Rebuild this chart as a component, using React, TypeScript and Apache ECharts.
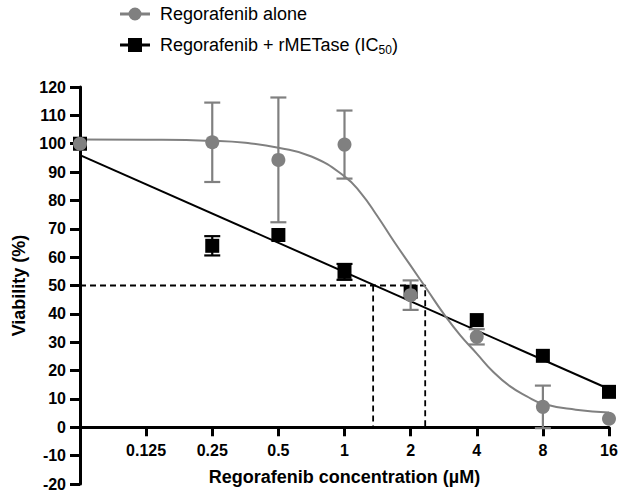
import React, { useEffect, useRef } from 'react';
import * as echarts from 'echarts';

// Concentrations (µM)
const doses = [0.0625, 0.25, 0.5, 1, 2, 4, 8, 16];
// Regorafenib alone: mean viability (%) and SD
const aloneMean = [100, 100.5, 94.3, 99.7, 46.6, 31.9, 7.2, 3];
const aloneSD = [0, 14, 22, 12, 5.2, 2.7, 7.5, 0];
// Regorafenib + rMETase: mean viability (%) and SD
const comboMean = [100, 64, 67.8, 54.8, 47.8, 37.8, 25.2, 12.5];
const comboSD = [0, 3.4, 0, 2.8, 0, 0, 0, 0];

// Fitted curve for Regorafenib alone
const aloneFitX = [0.0625, 0.125, 0.25, 0.354, 0.5, 0.707, 1, 1.19, 1.41, 1.68, 2, 2.38, 2.83, 3.36, 4, 4.76, 5.66, 6.73, 8, 11.3, 16];
const aloneFitY = [101.5, 101.4, 101.0, 100.3, 98.6, 95.5, 88.5, 82.5, 74.5, 65.5, 57, 48.5, 40, 32.5, 26, 19.5, 14.5, 11, 8.3, 6.2, 5.2];
// Fitted line for Regorafenib + rMETase
const comboFitX = [0.0625, 16];
const comboFitY = [96, 13.5];

// IC50 values (µM) for the dashed guides
const ic50Combo = 1.35;
const ic50Alone = 2.33;

const xTicks = [0.0625, 0.125, 0.25, 0.5, 1, 2, 4, 8, 16];

const ALONE = 'Regorafenib alone';
const COMBO = 'Regorafenib + rMETase (IC50)';
const FONT = 'Arial, "Liberation Sans", Helvetica, sans-serif';
const GRAY = '#808080';

function errData(means: number[], sds: number[]) {
  const out: number[][] = [];
  doses.forEach((d, i) => {
    if (sds[i] > 0) out.push([d, means[i] - sds[i], means[i] + sds[i]]);
  });
  return out;
}

function errSeries(name: string, means: number[], sds: number[], color: string, z: number) {
  return {
    type: 'custom',
    name,
    z,
    silent: true,
    data: errData(means, sds),
    encode: { x: 0, y: [1, 2] },
    renderItem: (params: any, api: any) => {
      const x = api.value(0);
      const lo = api.coord([x, api.value(1)]);
      const hi = api.coord([x, api.value(2)]);
      const hw = 8;
      const style = { stroke: color, lineWidth: 2.2 };
      return {
        type: 'group',
        children: [
          { type: 'line', shape: { x1: lo[0], y1: lo[1], x2: hi[0], y2: hi[1] }, style },
          { type: 'line', shape: { x1: lo[0] - hw, y1: lo[1], x2: lo[0] + hw, y2: lo[1] }, style },
          { type: 'line', shape: { x1: hi[0] - hw, y1: hi[1], x2: hi[0] + hw, y2: hi[1] }, style },
        ],
      };
    },
  };
}

const circleIcon = 'path://M0,6h9v3H0z M21,6h9v3H21z M8.5,7.5a6.5,6.5 0 1,1 13,0a6.5,6.5 0 1,1 -13,0z';
const squareIcon = 'path://M0,6h9v3H0z M21,6h9v3H21z M8,0.5h14v14h-14z';

export default function App() {
  const ref = useRef<HTMLDivElement>(null);
  useEffect(() => {
    if (!ref.current) return;
    const chart = echarts.init(ref.current, null, { renderer: 'svg' });
    const dash = { color: '#000', width: 1.8, type: [6, 4] as any };
    chart.setOption({
      animation: false,
      backgroundColor: '#fff',
      grid: { left: 80, right: 21, top: 87, bottom: 7, containLabel: false, outerBoundsMode: 'none' },
      legend: {
        orient: 'vertical',
        left: 120,
        top: 5,
        padding: 0,
        itemWidth: 30,
        itemHeight: 15,
        itemGap: 13,
        selectedMode: false,
        data: [
          { name: ALONE, icon: circleIcon, itemStyle: { color: GRAY, opacity: 1 } },
          { name: COMBO, icon: squareIcon, itemStyle: { color: '#000', opacity: 1 } },
        ],
        formatter: (name: string) =>
          name === COMBO ? '{n|Regorafenib + rMETase (IC}{sub|50}{n|)}' : '{n|' + name + '}',
        textStyle: {
          padding: [0, 0, 0, 5],
          rich: {
            n: { fontSize: 18, fontFamily: FONT, color: '#000', lineHeight: 22 },
            sub: { fontSize: 12, fontFamily: FONT, color: '#000', lineHeight: 22, verticalAlign: 'bottom', padding: [7, 0, 0, 0] },
          },
        },
      },
      xAxis: {
        type: 'log',
        logBase: 2,
        min: xTicks[0],
        max: xTicks[xTicks.length - 1],
        splitNumber: 8,
        name: 'Regorafenib concentration (µM)',
        nameLocation: 'middle',
        nameGap: -16,
        nameMoveOverlap: false,
        nameTextStyle: { fontSize: 18, fontWeight: 'bold', fontFamily: FONT, color: '#000' },
        axisLine: { onZero: true, lineStyle: { color: '#000', width: 3 } },
        axisTick: { show: true, length: 9, lineStyle: { color: '#000', width: 3 } },
        axisLabel: {
          margin: -42,
          fontSize: 16,
          fontWeight: 'bold',
          fontFamily: FONT,
          color: '#000',
          formatter: (v: number) => (v < 0.1 ? '' : String(+Number(v).toPrecision(6))),
        },
        splitLine: { show: false },
      },
      yAxis: {
        type: 'value',
        min: -20,
        max: 120,
        interval: 10,
        name: 'Viability (%)',
        nameLocation: 'middle',
        nameGap: 47,
        nameTextStyle: { fontSize: 18, fontWeight: 'bold', fontFamily: FONT, color: '#000' },
        axisLine: { show: true, onZero: false, lineStyle: { color: '#000', width: 3 } },
        axisTick: { show: true, length: 10, lineStyle: { color: '#000', width: 3 } },
        axisLabel: { margin: 14, fontSize: 16, fontWeight: 'bold', fontFamily: FONT, color: '#000' },
        splitLine: { show: false },
      },
      series: [
        {
          type: 'line',
          name: 'ic50-alone',
          silent: true,
          z: 1,
          symbol: 'none',
          lineStyle: dash,
          data: [[doses[0], 50], [ic50Alone, 50], [ic50Alone, 0]],
        },
        {
          type: 'line',
          name: 'ic50-combo',
          silent: true,
          z: 1,
          symbol: 'none',
          lineStyle: dash,
          data: [[ic50Combo, 50], [ic50Combo, 0]],
        },
        {
          type: 'line',
          name: 'combo-fit',
          silent: true,
          z: 2,
          symbol: 'none',
          lineStyle: { color: '#000', width: 2 },
          data: comboFitX.map((x, i) => [x, comboFitY[i]]),
        },
        {
          type: 'line',
          name: 'alone-fit',
          silent: true,
          z: 2,
          symbol: 'none',
          smooth: true,
          lineStyle: { color: GRAY, width: 2 },
          data: aloneFitX.map((x, i) => [x, aloneFitY[i]]),
        },
        errSeries('combo-err', comboMean, comboSD, '#000', 3),
        {
          type: 'scatter',
          name: COMBO,
          z: 4,
          symbol: 'rect',
          symbolSize: 14,
          itemStyle: { color: '#000', opacity: 1 },
          data: doses.map((d, i) => [d, comboMean[i]]),
        },
        errSeries('alone-err', aloneMean, aloneSD, GRAY, 5),
        {
          type: 'scatter',
          name: ALONE,
          z: 6,
          symbol: 'circle',
          symbolSize: 14,
          itemStyle: { color: GRAY, opacity: 1 },
          data: doses.map((d, i) => [d, aloneMean[i]]),
        },
      ],
    });
    return () => chart.dispose();
  }, []);
  return <div ref={ref} style={{ width: 630, height: 491, position: 'absolute', left: 0, top: 0 }} />;
}
